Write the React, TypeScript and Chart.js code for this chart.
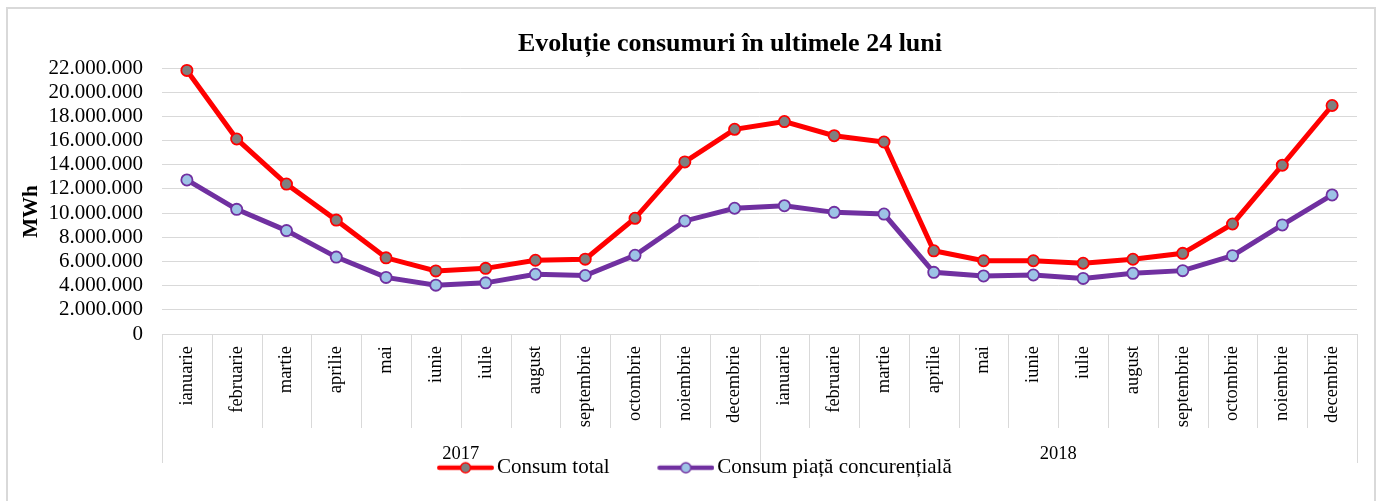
import React, { useEffect, useRef } from "react";
import { Chart, registerables } from "chart.js";

Chart.register(...registerables);

const months = [
  "ianuarie", "februarie", "martie", "aprilie", "mai", "iunie",
  "iulie", "august", "septembrie", "octombrie", "noiembrie", "decembrie",
];
const categories = [...months, ...months];
const years = ["2017", "2018"];

const consumTotal = [
  21800000, 16130000, 12400000, 9420000, 6300000, 5220000, 5430000, 6100000,
  6190000, 9570000, 14230000, 16930000, 17570000, 16400000, 15880000, 6880000,
  6060000, 6060000, 5850000, 6180000, 6670000, 9100000, 13960000, 18900000,
];
const consumPiata = [
  12740000, 10310000, 8550000, 6360000, 4680000, 4040000, 4230000, 4940000,
  4840000, 6510000, 9350000, 10400000, 10610000, 10060000, 9920000, 5100000,
  4800000, 4880000, 4600000, 5020000, 5240000, 6480000, 9020000, 11500000,
];

const seriesNames = ["Consum total", "Consum piață concurențială"];
const titleText = "Evoluție consumuri în ultimele 24 luni";
const yAxisTitle = "MWh";
const yMin = 0;
const yMax = 22000000;
const yStep = 2000000;

const FONT = "'Liberation Serif', 'Times New Roman', serif";
const GRID = "#d9d9d9";

const fmt = (v: number) => String(Math.round(v)).replace(/\B(?=(\d{3})+(?!\d))/g, ".");

// legend symbol: line with a marker, visible part on the right of a transparent margin
const LEG_W = 84;
const LEG_L = 27;
function makeLegendImage(line: string, fill: string, stroke: string) {
  const c = document.createElement("canvas");
  c.width = LEG_W;
  c.height = 16;
  const g = c.getContext("2d")!;
  g.strokeStyle = line;
  g.lineWidth = 4.5;
  g.lineCap = "round";
  g.beginPath();
  g.moveTo(LEG_L + 2.25, 8);
  g.lineTo(LEG_W - 2.25, 8);
  g.stroke();
  g.beginPath();
  g.arc((LEG_L + LEG_W) / 2, 8, 5, 0, Math.PI * 2);
  g.fillStyle = fill;
  g.fill();
  g.lineWidth = 1.5;
  g.strokeStyle = stroke;
  g.stroke();
  return c;
}

export default function App() {
  const ref = useRef<HTMLCanvasElement | null>(null);

  useEffect(() => {
    if (!ref.current) return;
    const legendImgs = [
      makeLegendImage("#FF0000", "#7F7F7F", "#FF0000"),
      makeLegendImage("#7030A0", "#9DC3E6", "#7030A0"),
    ];

    const framePlugin = {
      id: "frame",
      beforeDraw(chart: any) {
        const ctx = chart.ctx;
        ctx.save();
        ctx.fillStyle = "#ffffff";
        ctx.fillRect(0, 0, chart.width, chart.height);
        ctx.strokeStyle = GRID;
        ctx.lineWidth = 2;
        ctx.strokeRect(7, 8, 1368, 520);
        ctx.restore();
      },
    };

    const titlePlugin = {
      id: "customTitles",
      afterDraw(chart: any) {
        const ctx = chart.ctx;
        const area = chart.chartArea;
        ctx.save();
        ctx.font = `bold 26px ${FONT}`;
        ctx.fillStyle = "#000";
        ctx.textAlign = "center";
        ctx.textBaseline = "alphabetic";
        ctx.fillText(titleText, 730, 51);
        // y-axis title
        ctx.translate(32, (area.top + area.bottom) / 2 + 10.5);
        ctx.rotate(-Math.PI / 2);
        ctx.font = `bold 21px ${FONT}`;
        ctx.textBaseline = "middle";
        ctx.fillText(yAxisTitle, 0, 0);
        ctx.restore();
      },
    };

    const groupAxisPlugin = {
      id: "groupAxis",
      afterDraw(chart: any) {
        const xs = chart.scales.x;
        const ctx = chart.ctx;
        const y0 = xs.top;
        const n = categories.length;
        const half = (xs.getPixelForValue(1) - xs.getPixelForValue(0)) / 2;
        const edge = (i: number) =>
          i < n ? xs.getPixelForValue(i) - half : xs.getPixelForValue(n - 1) + half;
        ctx.save();
        ctx.strokeStyle = GRID;
        ctx.lineWidth = 1;
        for (let i = 0; i <= n; i++) {
          const px = Math.round(edge(i)) + 0.5;
          const yEnd = y0 + (i % months.length === 0 ? 129 : 94);
          ctx.beginPath();
          ctx.moveTo(px, y0);
          ctx.lineTo(px, yEnd);
          ctx.stroke();
        }
        ctx.font = `18.5px ${FONT}`;
        ctx.fillStyle = "#000";
        ctx.textAlign = "center";
        ctx.textBaseline = "alphabetic";
        years.forEach((yr, g) => {
          const s = edge(g * months.length);
          const e = edge((g + 1) * months.length);
          ctx.fillText(yr, (s + e) / 2, y0 + 124.5);
        });
        ctx.restore();
      },
    };

    const chart = new Chart(ref.current, {
      type: "line",
      data: {
        labels: categories,
        datasets: [
          {
            label: seriesNames[0],
            data: consumTotal,
            borderColor: "#FF0000",
            backgroundColor: "#7F7F7F",
            borderWidth: 5,
            pointRadius: 5.6,
            pointBorderWidth: 1.8,
            pointBackgroundColor: "#7F7F7F",
            pointBorderColor: "#FF0000",
            tension: 0,
            clip: false as any,
          },
          {
            label: seriesNames[1],
            data: consumPiata,
            borderColor: "#7030A0",
            backgroundColor: "#9DC3E6",
            borderWidth: 5,
            pointRadius: 5.6,
            pointBorderWidth: 1.8,
            pointBackgroundColor: "#9DC3E6",
            pointBorderColor: "#7030A0",
            tension: 0,
            clip: false as any,
          },
        ],
      },
      options: {
        responsive: false,
        devicePixelRatio: 1,
        animation: false,
        layout: { padding: { top: 68, left: 12.3, right: 21, bottom: 12.8 } },
        font: { family: FONT },
        color: "#000",
        scales: {
          x: {
            type: "category",
            offset: true,
            grid: { display: false, drawTicks: false },
            border: { display: true, color: GRID, width: 1 },
            ticks: {
              autoSkip: false,
              minRotation: 90,
              maxRotation: 90,
              padding: 12,
              color: "#000",
              font: { family: FONT, size: 18.5 },
            },
            afterFit: (s: any) => {
              s.height = 95;
            },
          },
          y: {
            min: yMin,
            max: yMax,
            grid: { color: GRID, lineWidth: 1, drawTicks: false },
            border: { display: false },
            ticks: {
              stepSize: yStep,
              autoSkip: false,
              padding: 19,
              color: "#000",
              font: { family: FONT, size: 21, lineHeight: 1 },
              callback: (v: any) => fmt(Number(v)),
            },
            title: { display: false },
            afterFit: (s: any) => {
              s.width = 149.7;
            },
          },
        },
        plugins: {
          title: { display: false },
          tooltip: { enabled: false },
          legend: {
            display: true,
            position: "bottom",
            labels: {
              usePointStyle: true,
              pointStyleWidth: 69,
              padding: 28.2,
              color: "#000",
              font: { family: FONT, size: 21 },
              generateLabels: (c: any) => {
                const items = (Chart.defaults.plugins.legend.labels as any).generateLabels(c);
                return items.map((it: any, i: number) => ({ ...it, pointStyle: legendImgs[i] }));
              },
            },
          },
        },
      } as any,
      plugins: [framePlugin, titlePlugin, groupAxisPlugin],
    });

    return () => chart.destroy();
  }, []);

  return (
    <div style={{ position: "fixed", left: 0, top: 0, width: 1378, height: 501, background: "#fff" }}>
      <canvas ref={ref} width={1378} height={501} style={{ display: "block", width: 1378, height: 501 }} />
    </div>
  );
}
